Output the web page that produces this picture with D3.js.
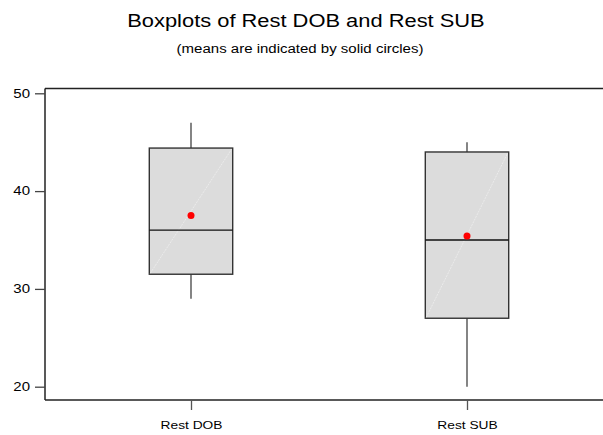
<!DOCTYPE html>
<html>
<head>
<meta charset="utf-8">
<script src="https://cdn.jsdelivr.net/npm/d3@7/dist/d3.min.js"></script>
<style>
  html, body { margin: 0; padding: 0; background: #fff; }
  svg { display: block; font-family: "Liberation Sans", Arial, sans-serif; }
</style>
</head>
<body>
<svg id="chart" width="603" height="435"></svg>
<script>
// Summary statistics for each variable
const categories = ["Rest DOB", "Rest SUB"];
const whiskerLow = [29, 20];
const q1 = [31.5, 27];
const median = [36, 35];
const q3 = [44.4, 44];
const whiskerHigh = [47, 45];
const means = [37.5, 35.4];
const yTicks = [20, 30, 40, 50];

const svg = d3.select("#chart");

// Plot frame
const frame = { left: 45, top: 88.5, bottom: 400, right: 603 };

const y = d3.scaleLinear().domain([20, 50]).range([386.7, 93.3]);
const x = d3.scalePoint().domain(categories).range([191, 467]);
const boxHalf = 41.7;

// Horizontally widened text (the chart's type is set wide)
const stretch = 1.25;
function widen(sel) {
  sel.each(function () {
    const len = this.getComputedTextLength();
    d3.select(this).attr("textLength", len * stretch).attr("lengthAdjust", "spacingAndGlyphs");
  });
}

// Titles
svg.append("text").attr("x", 306).attr("y", 27).attr("text-anchor", "middle")
  .attr("font-size", 17.5).attr("fill", "#000")
  .text("Boxplots of Rest DOB and Rest SUB").call(widen);
svg.append("text").attr("x", 300).attr("y", 53).attr("text-anchor", "middle")
  .attr("font-size", 12).attr("fill", "#000")
  .text("(means are indicated by solid circles)").call(widen);

// Frame lines: left, top, bottom
const frameG = svg.append("g").attr("stroke", "#222").attr("stroke-width", 1.5).attr("fill", "none");
frameG.append("line").attr("x1", frame.left).attr("x2", frame.left).attr("y1", frame.top).attr("y2", frame.bottom);
frameG.append("line").attr("x1", frame.left).attr("x2", frame.right).attr("y1", frame.top).attr("y2", frame.top);
frameG.append("line").attr("x1", frame.left).attr("x2", frame.right).attr("y1", frame.bottom).attr("y2", frame.bottom);

// Y axis
const yAxis = svg.append("g").attr("transform", `translate(${frame.left},0)`)
  .call(d3.axisLeft(y).tickValues(yTicks).tickSize(10).tickPadding(5).tickFormat(d3.format("d")));
yAxis.select(".domain").remove();
yAxis.selectAll(".tick line").attr("stroke", "#444").attr("stroke-width", 1.3);
yAxis.selectAll(".tick text").attr("font-size", 12).attr("fill", "#000")
  .attr("font-family", "Liberation Sans, Arial, sans-serif").call(widen);

// X axis
const xAxis = svg.append("g").attr("transform", `translate(0,${frame.bottom})`)
  .call(d3.axisBottom(x).tickSize(10).tickPadding(11));
xAxis.select(".domain").remove();
xAxis.selectAll(".tick line").attr("stroke", "#555").attr("stroke-width", 1.3);
xAxis.selectAll(".tick text").attr("font-size", 11).attr("fill", "#000")
  .attr("font-family", "Liberation Sans, Arial, sans-serif").call(widen);

// Boxes
const data = categories.map((c, i) => ({
  c, lo: whiskerLow[i], q1: q1[i], med: median[i], q3: q3[i], hi: whiskerHigh[i], mean: means[i]
}));

const g = svg.append("g");
const box = g.selectAll("g.box").data(data).join("g").attr("class", "box");

// whiskers
box.append("line").attr("x1", d => x(d.c)).attr("x2", d => x(d.c))
  .attr("y1", d => y(d.hi)).attr("y2", d => y(d.q3))
  .attr("stroke", "#666").attr("stroke-width", 1.6);
box.append("line").attr("x1", d => x(d.c)).attr("x2", d => x(d.c))
  .attr("y1", d => y(d.q1)).attr("y2", d => y(d.lo))
  .attr("stroke", "#666").attr("stroke-width", 1.6);

// interquartile box
box.append("rect")
  .attr("x", d => x(d.c) - boxHalf).attr("width", boxHalf * 2)
  .attr("y", d => y(d.q3)).attr("height", d => y(d.q1) - y(d.q3))
  .attr("fill", "#dcdcdc").attr("stroke", "#333").attr("stroke-width", 1.4);

// faint diagonal sheen across each box
box.append("line")
  .attr("x1", d => x(d.c) - boxHalf + 1).attr("y1", d => y(d.q1) - 1)
  .attr("x2", d => x(d.c) + boxHalf - 1).attr("y2", d => y(d.q3) + 1)
  .attr("stroke", "#f0f0f0").attr("stroke-width", 0.7).attr("stroke-dasharray", "2,1");

// median
box.append("line")
  .attr("x1", d => x(d.c) - boxHalf).attr("x2", d => x(d.c) + boxHalf)
  .attr("y1", d => y(d.med)).attr("y2", d => y(d.med))
  .attr("stroke", "#111").attr("stroke-width", 1.3);

// mean
box.append("circle").attr("cx", d => x(d.c)).attr("cy", d => y(d.mean)).attr("r", 3.5)
  .attr("fill", "#ff0000");
</script>
</body>
</html>
